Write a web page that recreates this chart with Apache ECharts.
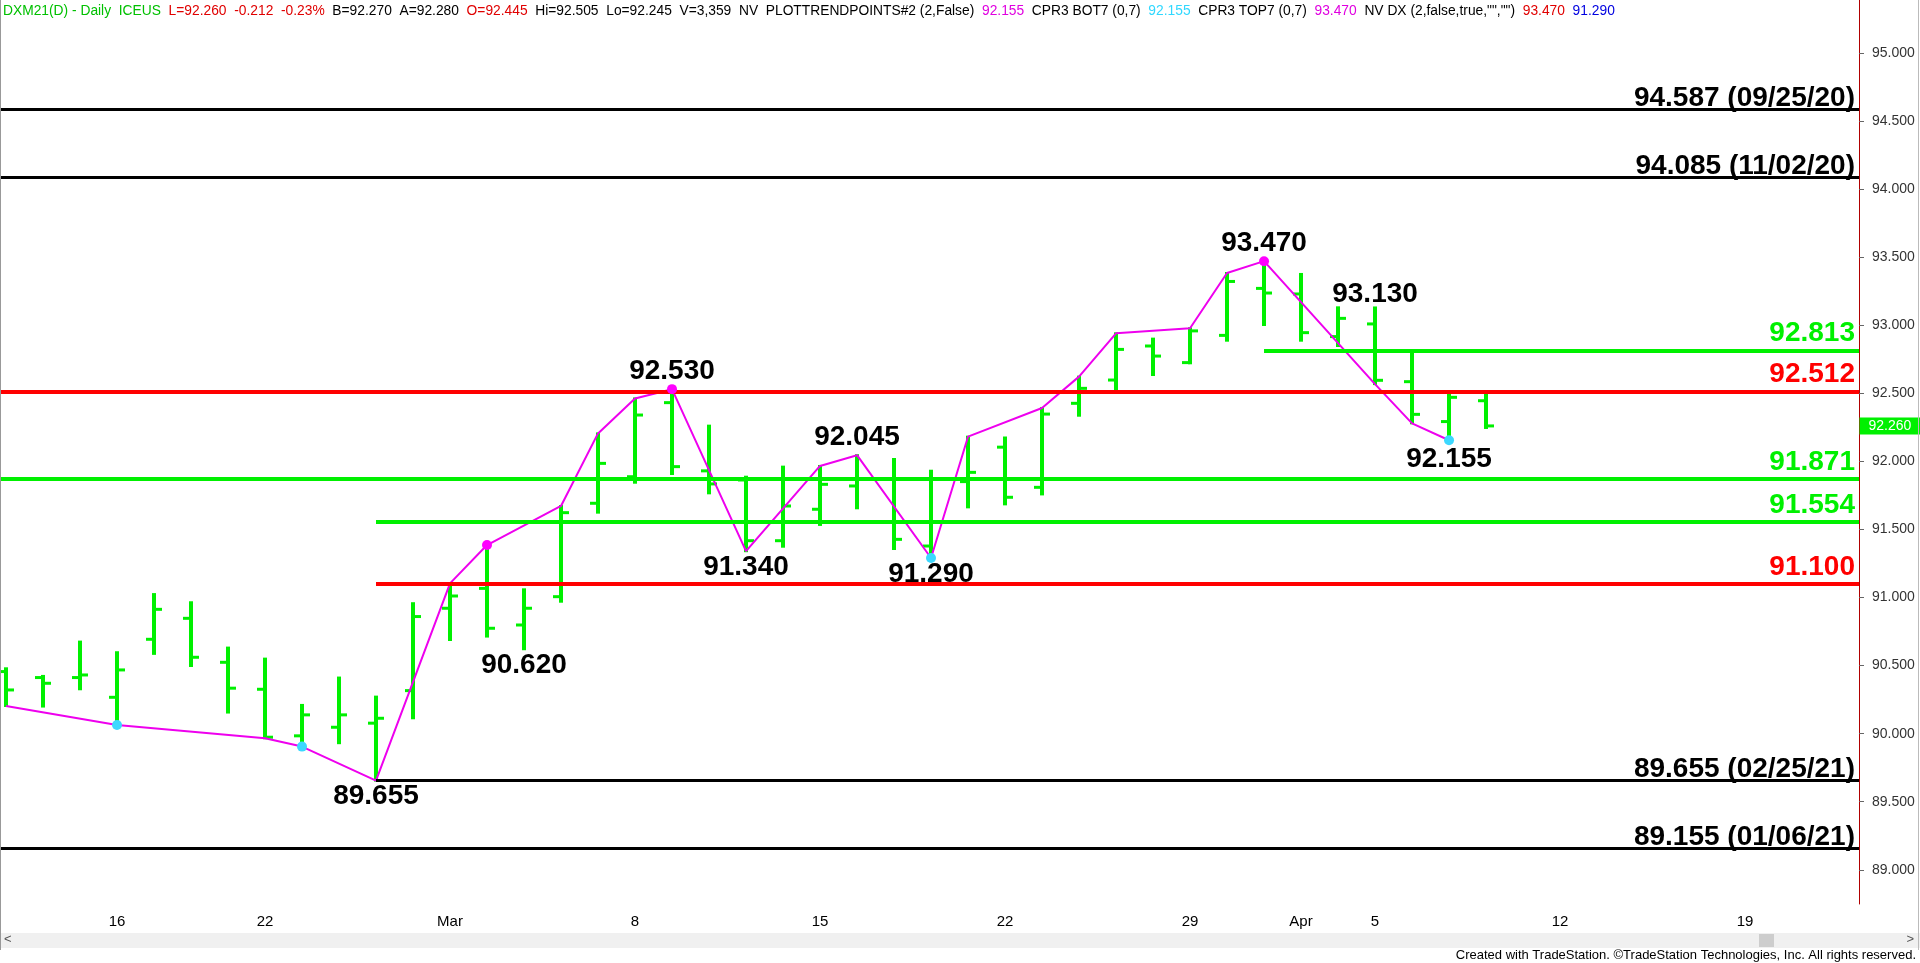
<!DOCTYPE html>
<html>
<head>
<meta charset="utf-8">
<script src="https://cdn.jsdelivr.net/npm/echarts@6/dist/echarts.min.js"></script>
<style>
html,body{margin:0;padding:0;background:#fff;}
#chart{width:1920px;height:963px;}
</style>
</head>
<body>
<div id="chart"></div>
<script>
// ---------- DATA ----------
const dates = ['2021-02-10','2021-02-11','2021-02-12','2021-02-16','2021-02-17','2021-02-18','2021-02-19',
  '2021-02-22','2021-02-23','2021-02-24','2021-02-25','2021-02-26','2021-03-01','2021-03-02','2021-03-03',
  '2021-03-04','2021-03-05','2021-03-08','2021-03-09','2021-03-10','2021-03-11','2021-03-12','2021-03-15',
  '2021-03-16','2021-03-17','2021-03-18','2021-03-19','2021-03-22','2021-03-23','2021-03-24','2021-03-25',
  '2021-03-26','2021-03-29','2021-03-30','2021-03-31','2021-04-01','2021-04-02','2021-04-05','2021-04-06',
  '2021-04-07','2021-04-08'];
const opens  = [90.456,90.412,90.412,90.267,90.693,90.847,90.524,90.326,89.984,90.047,90.077,90.316,90.921,91.067,90.798,
  91.006,91.692,91.887,92.431,91.930,91.863,91.417,91.648,91.819,91.870,91.378,91.851,92.104,91.809,92.426,92.597,
  92.847,92.725,92.925,93.270,93.229,92.916,93.009,92.585,92.292,92.445];
const highs  = [90.480,90.424,90.676,90.598,91.025,90.965,90.632,90.551,90.211,90.412,90.272,90.958,91.104,91.385,91.060,
  91.672,92.205,92.462,92.530,92.262,91.887,91.961,91.966,92.045,92.017,91.931,92.181,92.175,92.392,92.622,92.940,
  92.901,92.977,93.383,93.470,93.376,93.131,93.130,92.805,92.487,92.505];
const lows   = [90.203,90.199,90.326,90.064,90.586,90.497,90.155,89.966,89.905,89.930,89.655,90.113,90.688,90.713,90.620,
  90.969,91.623,91.843,91.907,91.765,91.340,91.373,91.533,91.655,91.356,91.290,91.662,91.684,91.757,92.335,92.519,
  92.634,92.720,92.886,93.001,92.886,92.847,92.567,92.279,92.155,92.245];
const closes = [90.321,90.370,90.431,90.468,90.913,90.561,90.334,89.974,90.138,90.138,90.113,90.860,91.011,90.774,90.921,
  91.623,91.985,92.340,91.961,91.834,91.417,91.672,91.831,91.870,91.427,91.870,91.919,91.736,92.347,92.536,92.822,
  92.773,92.958,93.321,93.236,92.945,93.050,92.595,92.345,92.470,92.260];

const xTickIndex  = [3, 7, 12, 17, 22, 27, 32, 35, 37, 42, 47];
const xTickLabels = ['16','22','Mar','8','15','22','29','Apr','5','12','19'];
const yTicks = [89,89.5,90,90.5,91,91.5,92,92.5,93,93.5,94,94.5,95];

// swing (trend points) line
const trendIdx = [0,3,7,8,10,12,13,15,16,17,18,20,22,23,25,26,28,29,30,32,33,34,37,38,39];
const trendVal = [90.203,90.064,89.966,89.905,89.655,91.104,91.385,91.672,92.205,92.462,92.530,91.340,91.966,92.045,
  91.290,92.181,92.392,92.622,92.940,92.977,93.383,93.470,92.567,92.279,92.155];
const topDotIdx = [13,18,34];
const topDotVal = [91.385,92.530,93.470];
const botDotIdx = [3,8,25,39];
const botDotVal = [90.064,89.905,91.290,92.155];

// swing labels (the last entry of each list is the most recent swing)
const highLabelIdx = [18,23,34,37];
const highLabelVal = [92.530,92.045,93.470,93.130];
const lowLabelIdx  = [10,14,20,25,39];
const lowLabelVal  = [89.655,90.620,91.340,91.290,92.155];

// horizontal levels
const levelVal   = [94.587, 94.085, 92.813, 92.512, 91.871, 91.554, 91.100, 89.655, 89.155];
const levelStart = [null, null, 34, null, null, 10, 10, 10, null];
const levelText  = ['94.587 (09/25/20)','94.085 (11/02/20)','92.813','92.512','91.871','91.554','91.100','89.655 (02/25/21)','89.155 (01/06/21)'];
const levelKind  = ['hist','hist','green','red','green','green','red','hist','hist'];

const lastClose = 92.260;

const headerParts = [
  ['g','DXM21(D) - Daily  ICEUS'],['r','L=92.260  -0.212  -0.23%'],['k','B=92.270  A=92.280'],['r','O=92.445'],
  ['k','Hi=92.505  Lo=92.245  V=3,359  NV  PLOTTRENDPOINTS#2 (2,False)'],['m','92.155'],['k','CPR3 BOT7 (0,7)'],
  ['c','92.155'],['k','CPR3 TOP7 (0,7)'],['m','93.470'],['k','NV DX (2,false,true,"","")'],['r','93.470'],['b','91.290']
];

// ---------- STYLE ----------
const GREEN = '#00f000', RED = '#ff0000', BLACK = '#000000', MAG = '#ee00ee', CYAN = '#3cd8ff';
const kindColor = {hist: BLACK, green: GREEN, red: RED};
const kindWidth = {hist: 3, green: 4, red: 4};
const kindDist  = {hist: -3, green: 3, red: 3};
const NARROW = '"Liberation Sans Narrow","Arial Narrow","Liberation Sans",Arial,sans-serif';
const BOLD = '"Liberation Sans",Arial,sans-serif';
const TRANSPARENT = 'rgba(0,0,0,0)';

const X_MIN = -0.162, X_MAX = 50.08;
const Y_MIN = 88.749, Y_MAX = 95.388;

const chart = echarts.init(document.getElementById('chart'), null, {renderer: 'canvas'});

const ohlcData = dates.map((d, i) => [i, opens[i], highs[i], lows[i], closes[i]]);

function renderOHLC(params, api) {
  const i = api.value(0);
  const o = api.coord([i, api.value(1)]);
  const h = api.coord([i, api.value(2)]);
  const l = api.coord([i, api.value(3)]);
  const c = api.coord([i, api.value(4)]);
  const x = Math.round(h[0]);
  return {
    type: 'group',
    children: [
      {type: 'line', shape: {x1: x, y1: h[1] - 1, x2: x, y2: l[1] + 1}, style: {stroke: GREEN, lineWidth: 4}},
      {type: 'line', shape: {x1: x - 8, y1: o[1], x2: x, y2: o[1]}, style: {stroke: GREEN, lineWidth: 3}},
      {type: 'line', shape: {x1: x, y1: c[1], x2: x + 8, y2: c[1]}, style: {stroke: GREEN, lineWidth: 3}}
    ]
  };
}

const levelLines = levelVal.map((v, k) => {
  const kind = levelKind[k];
  const col = kindColor[kind];
  const start = levelStart[k] === null ? X_MIN : levelStart[k];
  return [
    {coord: [start, v], lineStyle: {color: col, width: kindWidth[kind], type: 'solid'},
     label: {show: true, position: 'insideEndTop', formatter: levelText[k], color: col,
             fontSize: 28, fontWeight: 'bold', fontFamily: BOLD, distance: [4, kindDist[kind]]}},
    {coord: [X_MAX, v]}
  ];
});

// most recent swing labels sit a little further from their bar than the confirmed pivots
function swingData(idx, val, baseDist, recentDist) {
  return idx.map((i, k) => ({
    value: [i, val[k]],
    label: {distance: k === idx.length - 1 ? recentDist : baseDist}
  }));
}

const rich = {
  g: {fill: '#00c000'}, r: {fill: '#e00000'}, k: {fill: '#000'}, m: {fill: '#e000e0'},
  c: {fill: '#30d8ff'}, b: {fill: '#0000e0'}
};
const headerText = headerParts.map(p => '{' + p[0] + '|' + p[1] + '}').join('{k|  }');

const swingLabel = {show: true, formatter: p => p.value[1].toFixed(3),
  color: '#000', fontSize: 28, fontWeight: 'bold', fontFamily: BOLD};

const option = {
  animation: false,
  backgroundColor: '#ffffff',
  grid: {left: 0, right: 61, top: 0, bottom: 59},
  xAxis: {
    type: 'value', min: X_MIN, max: X_MAX,
    axisLine: {show: false}, axisTick: {show: false}, splitLine: {show: false},
    axisLabel: {
      customValues: xTickIndex,
      formatter: v => { const k = xTickIndex.indexOf(Math.round(v)); return k >= 0 ? xTickLabels[k] : ''; },
      fontFamily: NARROW, fontSize: 15, color: '#000', margin: 10
    }
  },
  yAxis: {
    type: 'value', position: 'right', min: Y_MIN, max: Y_MAX, scale: true,
    axisLine: {show: true, onZero: false, lineStyle: {color: '#b00000', width: 1}},
    axisTick: {show: true, customValues: yTicks, length: 5, lineStyle: {color: '#666'}},
    axisLabel: {customValues: yTicks, formatter: v => v.toFixed(3), fontFamily: BOLD, fontSize: 14, color: '#333', margin: 13},
    splitLine: {show: false}
  },
  graphic: [
    {type: 'text', left: 3, top: 4, z: 100,
     style: {text: headerText, rich: rich, font: '13.8px ' + NARROW, fill: '#000'}},
    {type: 'rect', left: 0, top: 933, z: 90, shape: {width: 1920, height: 15}, style: {fill: '#f0f0f0'}},
    {type: 'rect', left: 1759, top: 934, z: 91, shape: {width: 15, height: 13}, style: {fill: '#cdcdcd'}},
    {type: 'text', left: 4, top: 933, z: 92, style: {text: '<', font: '13px ' + NARROW, fill: '#555'}},
    {type: 'text', right: 6, top: 933, z: 92, style: {text: '>', font: '13px ' + NARROW, fill: '#555'}},
    {type: 'text', right: 4, top: 949, z: 92,
     style: {text: 'Created with TradeStation. \u00A9TradeStation Technologies, Inc. All rights reserved.', font: '13px ' + NARROW, fill: '#000'}},
    {type: 'rect', left: 0, top: 0, z: 93, shape: {width: 1, height: 950}, style: {fill: '#999'}},
    {type: 'rect', left: 1918, top: 0, z: 93, shape: {width: 1, height: 950}, style: {fill: '#bbb'}}
  ],
  series: [
    {
      type: 'custom', name: 'DXM21', z: 2,
      renderItem: renderOHLC,
      data: ohlcData,
      encode: {x: 0, y: [1, 2, 3, 4]},
      silent: true
    },
    {
      type: 'line', name: 'levels', z: 3, data: [], silent: true,
      markLine: {silent: true, symbol: ['none', 'none'], animation: false, data: levelLines}
    },
    {
      type: 'line', name: 'trend', z: 4, silent: true,
      data: trendIdx.map((i, k) => [i, trendVal[k]]),
      showSymbol: false, symbol: 'none',
      lineStyle: {color: MAG, width: 2}
    },
    {
      type: 'scatter', name: 'topDots', z: 5, silent: true,
      data: topDotIdx.map((i, k) => [i, topDotVal[k]]),
      symbolSize: 10, itemStyle: {color: '#ff00ff', opacity: 1}
    },
    {
      type: 'scatter', name: 'botDots', z: 5, silent: true,
      data: botDotIdx.map((i, k) => [i, botDotVal[k]]),
      symbolSize: 10, itemStyle: {color: CYAN, opacity: 1}
    },
    {
      type: 'scatter', name: 'highLabels', z: 6, silent: true,
      data: swingData(highLabelIdx, highLabelVal, 3, -1),
      symbolSize: 1, itemStyle: {color: TRANSPARENT, opacity: 1},
      label: Object.assign({position: 'top'}, swingLabel)
    },
    {
      type: 'scatter', name: 'lowLabels', z: 6, silent: true,
      data: swingData(lowLabelIdx, lowLabelVal, 1.5, 5),
      symbolSize: 1, itemStyle: {color: TRANSPARENT, opacity: 1},
      label: Object.assign({position: 'bottom'}, swingLabel)
    },
    {
      type: 'scatter', name: 'lastPrice', z: 7, silent: true, clip: false,
      data: [[X_MAX, lastClose]],
      symbolSize: 1, itemStyle: {color: TRANSPARENT, opacity: 1},
      label: {show: true, position: 'right', distance: 0, formatter: p => p.value[1].toFixed(3),
              color: '#fff', backgroundColor: GREEN, fontSize: 14, fontFamily: BOLD, padding: [2, 10, 1, 9]}
    }
  ]
};
chart.setOption(option);
</script>
</body>
</html>
